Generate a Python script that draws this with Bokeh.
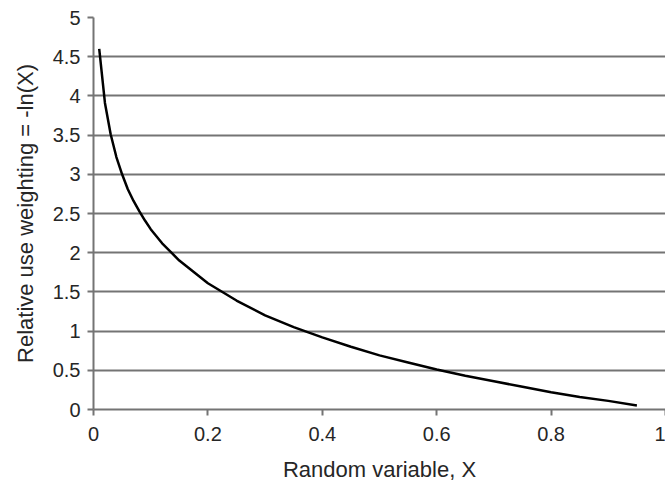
from bokeh.plotting import figure
from bokeh.models import FixedTicker, LinearAxis, Range1d
from bokeh.embed import file_html
from bokeh.resources import INLINE

# Data
x_values = [0.01, 0.02, 0.03, 0.04, 0.05, 0.06, 0.07, 0.08, 0.09, 0.10,
            0.12, 0.15, 0.20, 0.25, 0.30, 0.35, 0.40, 0.45, 0.50, 0.55,
            0.60, 0.65, 0.70, 0.75, 0.80, 0.85, 0.90, 0.95]
y_values = [4.60, 3.91, 3.51, 3.22, 3.00, 2.81, 2.66, 2.53, 2.41, 2.30,
            2.12, 1.90, 1.61, 1.39, 1.20, 1.05, 0.92, 0.80, 0.69, 0.60,
            0.51, 0.43, 0.36, 0.29, 0.22, 0.16, 0.11, 0.05]

x_ticks = [0, 0.2, 0.4, 0.6, 0.8, 1]
x_tick_labels = ["0", "0.2", "0.4", "0.6", "0.8", "1"]
y_ticks = [0, 0.5, 1, 1.5, 2, 2.5, 3, 3.5, 4, 4.5, 5]
y_tick_labels = ["0", "0.5", "1", "1.5", "2", "2.5", "3", "3.5", "4", "4.5", "5"]

x_title = "Random variable, X"
y_title = "Relative use weighting = -ln(X)"

FONT = "Liberation Sans"
TEXT = "#262626"
GRID = "#747474"

p = figure(width=665, height=484, output_backend="svg", toolbar_location=None,
           x_range=Range1d(0, 1), y_range=Range1d(0, 5),
           min_border_left=93, min_border_right=0, min_border_top=17,
           min_border_bottom=75)
p.outline_line_color = None
p.background_fill_color = "white"
p.border_fill_color = "white"

p.line(x_values, y_values, line_color="black", line_width=2.5)

# axes
for ax, ticks, labels, title in ((p.xaxis[0], x_ticks, x_tick_labels, x_title),
                                 (p.yaxis[0], y_ticks, y_tick_labels, y_title)):
    ax.ticker = FixedTicker(ticks=ticks)
    ax.major_label_overrides = {t: l for t, l in zip(ticks, labels)}
    ax.axis_label = title
    ax.axis_label_text_font = FONT
    ax.axis_label_text_font_size = "22px"
    ax.axis_label_text_font_style = "normal"
    ax.axis_label_text_color = TEXT
    ax.axis_label_text_line_height = 0.8
    ax.major_label_text_font = FONT
    ax.major_label_text_font_size = "20px"
    ax.major_label_text_color = TEXT
    ax.axis_line_color = GRID
    ax.axis_line_width = 2
    ax.major_tick_line_color = GRID
    ax.major_tick_line_width = 2
    ax.major_tick_in = 0
    ax.major_tick_out = 6
    ax.minor_tick_line_color = None

p.xaxis[0].major_label_standoff = 11
p.xaxis[0].axis_label_standoff = 13
p.yaxis[0].major_label_standoff = 7
p.yaxis[0].axis_label_standoff = 12

# right border of plot area
right = LinearAxis(ticker=FixedTicker(ticks=[]), axis_line_color="#a8a8a8",
                   axis_line_width=1, major_tick_line_color=None,
                   minor_tick_line_color=None, major_label_text_font_size="0px")
p.add_layout(right, "right")

p.xgrid.grid_line_color = None
p.ygrid.ticker = FixedTicker(ticks=y_ticks)
p.ygrid.grid_line_color = GRID
p.ygrid.grid_line_width = 2

open("out.html", "w").write(file_html(p, INLINE))
